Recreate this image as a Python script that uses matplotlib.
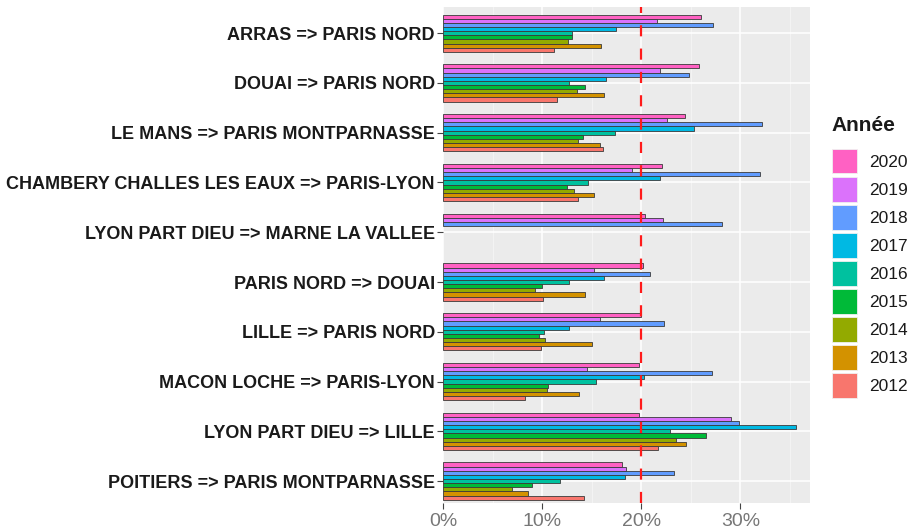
import numpy as np
import matplotlib.pyplot as plt
from matplotlib.patches import Patch
from matplotlib.ticker import MultipleLocator, FuncFormatter

routes = [
    "ARRAS => PARIS NORD",
    "DOUAI => PARIS NORD",
    "LE MANS => PARIS MONTPARNASSE",
    "CHAMBERY CHALLES LES EAUX => PARIS-LYON",
    "LYON PART DIEU => MARNE LA VALLEE",
    "PARIS NORD => DOUAI",
    "LILLE => PARIS NORD",
    "MACON LOCHE => PARIS-LYON",
    "LYON PART DIEU => LILLE",
    "POITIERS => PARIS MONTPARNASSE",
]

years = ["2020", "2019", "2018", "2017", "2016", "2015", "2014", "2013", "2012"]

# share of delayed trains (%) per route, one list per year
v2020 = [26.0, 25.8, 24.4, 22.1, 20.4, 20.2, 20.0, 19.8, 19.8, 18.0]
v2019 = [21.6, 21.9, 22.6, 19.1, 22.2, 15.2, 15.8, 14.5, 29.1, 18.5]
v2018 = [27.2, 24.8, 32.2, 32.0, 28.2, 20.9, 22.3, 27.1, 29.9, 23.3]
v2017 = [17.4, 16.4, 25.3, 21.9, np.nan, 16.2, 12.7, 20.3, 35.6, 18.4]
v2016 = [13.0, 12.7, 17.3, 14.6, np.nan, 12.7, 10.2, 15.4, 22.9, 11.8]
v2015 = [13.0, 14.3, 14.1, 12.5, np.nan, 10.0, 9.7, 10.6, 26.5, 9.0]
v2014 = [12.6, 13.5, 13.6, 13.2, np.nan, 9.3, 10.3, 10.5, 23.5, 6.9]
v2013 = [15.9, 16.2, 15.8, 15.2, np.nan, 14.3, 15.0, 13.7, 24.5, 8.6]
v2012 = [11.2, 11.5, 16.1, 13.6, np.nan, 10.1, 9.9, 8.3, 21.7, 14.2]

values = [v2020, v2019, v2018, v2017, v2016, v2015, v2014, v2013, v2012]
colors = ["#FF61C3", "#DB72FB", "#619CFF", "#00B9E3", "#00C19F",
          "#00BA38", "#93AA00", "#D39200", "#F8766D"]

W, H = 916, 528
fig = plt.figure(figsize=(W / 100, H / 100), dpi=100)
ax = fig.add_axes([443.3 / W, 1 - 503 / H, (810 - 443.3) / W, (503 - 7.3) / H])
ax.set_facecolor("#EBEBEB")

group_w = 0.75
bar_h = group_w / len(years)
pos = np.arange(len(routes))
for k, (yr, vals, col) in enumerate(zip(years, values, colors)):
    offs = -group_w / 2 + bar_h * (k + 0.5)
    ax.barh(pos + offs, vals, height=bar_h, color=col,
            edgecolor="#3a3a3a", linewidth=0.6, zorder=3)

ax.axvline(20, color="#FF1A1A", lw=1.6, dashes=(5, 5.5), zorder=4)

ax.set_xlim(0, 37.04)
ax.set_ylim(len(routes) - 1 + 0.44, -0.52)
ax.set_yticks(pos)
ax.set_yticklabels(routes, fontfamily="Liberation Sans", fontweight="bold",
                   fontsize=13, color="#1a1a1a")
ax.xaxis.set_major_locator(MultipleLocator(10))
ax.xaxis.set_minor_locator(MultipleLocator(5))
ax.xaxis.set_major_formatter(FuncFormatter(lambda v, _: f"{v:.0f}%"))
for lab in ax.get_xticklabels():
    lab.set_fontfamily("Liberation Sans")
ax.tick_params(axis="x", labelsize=14, labelcolor="#777777", color="#444444",
               length=4, width=0.8, pad=3)
ax.tick_params(axis="x", which="minor", length=0)
ax.tick_params(axis="y", color="#444444", length=4, width=0.8, pad=2)

ax.grid(which="major", axis="both", color="white", lw=1.1, zorder=0)
ax.grid(which="minor", axis="x", color="#F5F5F5", lw=0.6, zorder=0)
ax.set_axisbelow(True)
for sp in ax.spines.values():
    sp.set_visible(False)

# legend: title drawn on its own to get the wider gap above the keys
fig.text(831 / W, 1 - 125 / H, "Année", fontfamily="Liberation Sans",
         fontweight="bold", fontsize=15, color="#1a1a1a", ha="left", va="center")
handles = [Patch(facecolor=c, edgecolor="#f0f0f0", lw=0.6, label=y)
           for y, c in zip(years, colors)]
leg = fig.legend(handles=handles, loc="upper left",
                 bbox_to_anchor=(816 / W, 1 - 133 / H), frameon=False,
                 prop={"family": "Liberation Sans", "size": 12.5},
                 handlelength=1.45, handleheight=1.82, labelspacing=0.19,
                 handletextpad=0.7)
for t in leg.get_texts():
    t.set_color("#1a1a1a")

fig.savefig("out.png", dpi=100)
